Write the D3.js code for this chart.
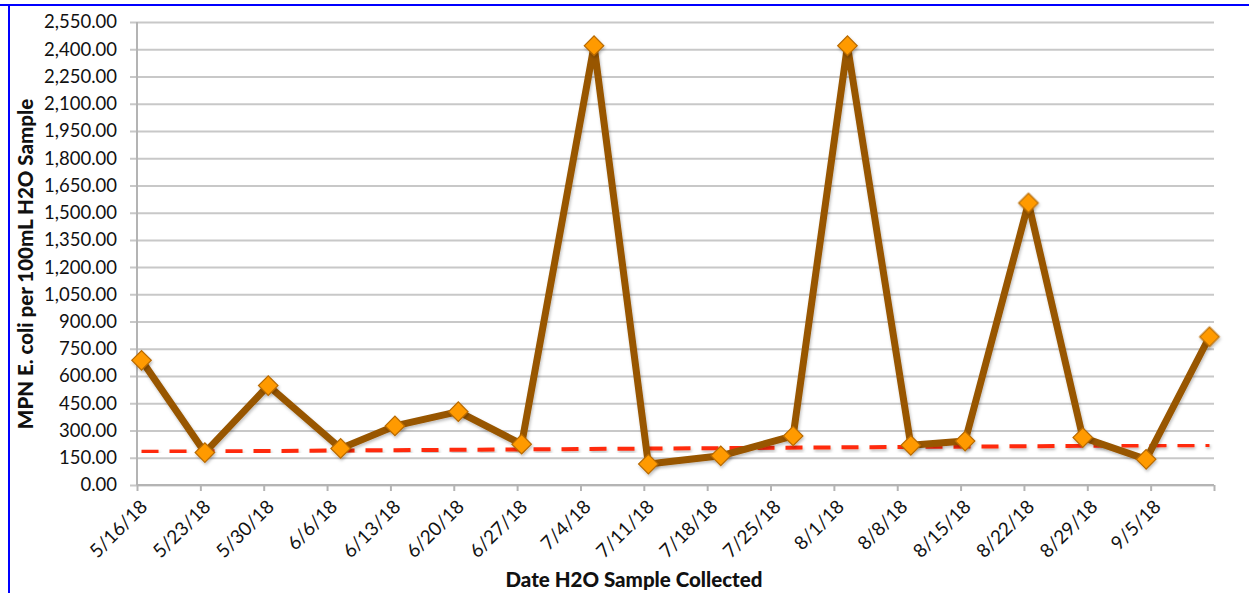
<!DOCTYPE html>
<html>
<head>
<meta charset="utf-8">
<script src="https://cdn.jsdelivr.net/npm/d3@7"></script>
<style>
  html, body { margin: 0; padding: 0; background: #fff; }
  svg { display: block; }
  text { font-family: Lato, "Open Sans", sans-serif; fill: #111; }
</style>
</head>
<body>
<svg id="chart" width="1249" height="593"></svg>
<script>
// Weekly E. coli samples (MPN per 100 mL)
const sampleDates = ["2018-05-16","2018-05-23","2018-05-30","2018-06-07","2018-06-13","2018-06-20",
  "2018-06-27","2018-07-05","2018-07-11","2018-07-19","2018-07-27","2018-08-02",
  "2018-08-09","2018-08-15","2018-08-22","2018-08-28","2018-09-04","2018-09-11"];
const mpnValues = [686.7, 178.5, 547.5, 201.4, 325.5, 404.0,
  224.7, 2419.6, 115.3, 160.7, 270.0, 2419.6,
  218.7, 241.9, 1553.1, 261.3, 141.4, 816.4];

// Dashed reference line (start and end of the sampling period)
const refDates = ["2018-05-16", "2018-09-11"];
const refValues = [183, 220];

// Axis ticks
const tickLabels = ["5/16/18","5/23/18","5/30/18","6/6/18","6/13/18","6/20/18","6/27/18","7/4/18",
  "7/11/18","7/18/18","7/25/18","8/1/18","8/8/18","8/15/18","8/22/18","8/29/18","9/5/18"];
const axisStart = "2018-05-16", axisEnd = "2018-09-12";
const yTicks = d3.range(0, 2551, 150);

const svg = d3.select("#chart");
const parse = d3.utcParse("%Y-%m-%d");
const parseTick = d3.utcParse("%m/%d/%y");
const halfDay = 12 * 3600 * 1000;
// each sample sits in the middle of its day slot
const mid = s => new Date(parse(s).getTime() + halfDay);

const plotL = 137, plotR = 1214, plotT = 22, plotB = 485;
const x = d3.scaleUtc().domain([parse(axisStart), parse(axisEnd)]).range([plotL, plotR]);
const y = d3.scaleLinear().domain([0, 2550]).range([plotB, plotT]);

// frame edges
svg.append("line").attr("x1", 0).attr("x2", 1249).attr("y1", 5).attr("y2", 5)
  .attr("stroke", "#0000ff").attr("stroke-width", 2);
svg.append("line").attr("x1", 9).attr("x2", 9).attr("y1", 4).attr("y2", 593)
  .attr("stroke", "#0000ff").attr("stroke-width", 2);

const defs = svg.append("defs");
const f = defs.append("filter").attr("id", "shadow").attr("x", "-10%").attr("y", "-10%")
  .attr("width", "120%").attr("height", "120%");
f.append("feDropShadow").attr("dx", 1).attr("dy", 2).attr("stdDeviation", 1.5)
  .attr("flood-color", "#000").attr("flood-opacity", 0.25);

// horizontal gridlines
const yAxis = d3.axisLeft(y).tickValues(yTicks).tickSize(-(plotR - plotL + 7))
  .tickFormat(d3.format(",.2f")).tickPadding(13);
const gy = svg.append("g").attr("transform", `translate(${plotL - 7},0)`).call(yAxis);
gy.select(".domain").remove();
gy.selectAll(".tick line").attr("stroke", "#c8c8c8").attr("stroke-width", 2);
gy.selectAll(".tick text").attr("font-size", 18.5).attr("fill", "#111")
  .style("font-family", "Lato, sans-serif");

// vertical axis line
svg.append("line").attr("x1", plotL).attr("x2", plotL).attr("y1", plotT).attr("y2", plotB)
  .attr("stroke", "#b4b4b4").attr("stroke-width", 2);

// x axis
const tickDates = tickLabels.map(parseTick).concat([parse(axisEnd)]);
const labelOf = new Map(tickLabels.map(t => [parseTick(t).getTime(), t]));
const xAxis = d3.axisBottom(x).tickValues(tickDates).tickSize(6)
  .tickFormat(d => labelOf.get(d.getTime()) || "");
const gx = svg.append("g").attr("transform", `translate(0,${plotB})`).call(xAxis);
gx.select(".domain").attr("stroke", "#b4b4b4").attr("stroke-width", 2)
  .attr("d", `M${plotL},0H${plotR}`);
gx.selectAll(".tick line").attr("stroke", "#b4b4b4").attr("stroke-width", 2);
gx.selectAll(".tick text").attr("font-size", 19).attr("fill", "#111")
  .style("font-family", "Lato, sans-serif")
  .attr("text-anchor", "end").attr("dy", 0).attr("y", 0)
  .attr("transform", "translate(11,23) rotate(-45)");

// dashed reference line
const refPts = refDates.map((d, i) => [x(mid(d)), y(refValues[i])]);
svg.append("path").attr("d", d3.line()(refPts))
  .attr("fill", "none").attr("stroke", "#ff2a0a").attr("stroke-width", 4)
  .attr("stroke-dasharray", "17,11").attr("filter", "url(#shadow)");

// sample series
const pts = sampleDates.map((d, i) => [x(mid(d)), y(mpnValues[i])]);
svg.append("path").attr("d", d3.line()(pts))
  .attr("fill", "none").attr("stroke", "#985700").attr("stroke-width", 7)
  .attr("stroke-linejoin", "round").attr("filter", "url(#shadow)");

const diamond = d3.symbol().type(d3.symbolSquare).size(190);
svg.append("g").attr("filter", "url(#shadow)").selectAll("path").data(pts).join("path")
  .attr("d", diamond).attr("transform", d => `translate(${d[0]},${d[1]}) rotate(45)`)
  .attr("fill", "#ff9a00").attr("stroke", "#b86a00").attr("stroke-width", 1.2);

// axis titles
svg.append("text").attr("x", 634).attr("y", 587)
  .attr("text-anchor", "middle").attr("font-size", 20.5).attr("font-weight", "900")
  .text("Date H2O Sample Collected");
svg.append("text").attr("transform", "translate(33,264) rotate(-90)")
  .attr("text-anchor", "middle").attr("font-size", 20.5).attr("font-weight", "900")
  .text("MPN E. coli per 100mL H2O Sample");
</script>
</body>
</html>
